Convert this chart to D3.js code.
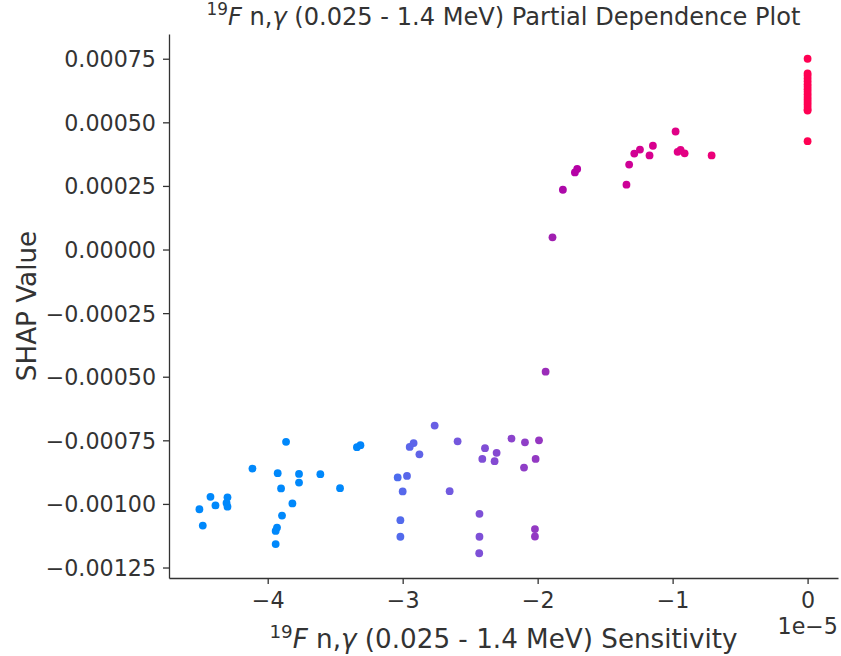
<!DOCTYPE html>
<html>
<head>
<meta charset="utf-8">
<script src="https://cdn.jsdelivr.net/npm/d3@7"></script>
<style>
  body { margin: 0; background: white; }
  text { font-family: "DejaVu Sans", sans-serif; fill: #333333; }
</style>
</head>
<body>
<div id="pdp"></div>
<script>
// sensitivity values (in units of 1e-5)
const sensitivity = [
  -4.506, -4.481, -4.424, -4.387, -4.298, -4.305, -4.298, -4.113, -3.864, -3.926,
  -3.901, -3.768, -3.768, -3.817, -3.894, -3.931, -3.941, -3.941, -3.610, -3.464,
  -3.339, -3.313, -3.037, -2.968, -3.000, -3.017, -3.017, -2.948, -2.919, -2.876,
  -2.763, -2.593, -2.652, -2.431, -2.431, -2.433, -2.390, -2.410, -2.304, -2.319,
  -2.194, -2.094, -1.990, -2.015, -2.101, -2.020, -2.020, -1.941,
  -1.890, -1.813, -1.724, -1.707, -1.342, -1.322, -1.284, -1.242, -1.171, -1.146,
  -0.978, -0.963, -0.941, -0.911, -0.711,
  0, 0, 0, 0, 0, 0, 0, 0, 0, 0, 0, 0, 0, 0, 0, 0, 0, 0
];

// matching shap values
const shapValue = [
  -0.001021, -0.001085, -0.000972, -0.001006, -0.000974, -0.000996, -0.001011, -0.000861, -0.000756, -0.000879,
  -0.000939, -0.000882, -0.000916, -0.000998, -0.001046, -0.001093, -0.001106, -0.001158, -0.000883, -0.000938,
  -0.000777, -0.000769, -0.000896, -0.000890, -0.000951, -0.001064, -0.001129, -0.000776, -0.000761, -0.000805,
  -0.000692, -0.000754, -0.000950, -0.001039, -0.001129, -0.001194, -0.000781, -0.000823, -0.000799, -0.000832,
  -0.000743, -0.000758, -0.000750, -0.000823, -0.000857, -0.001099, -0.001128, -0.000480,
  0.000048, 0.000235, 0.000303, 0.000317, 0.000255, 0.000334, 0.000377, 0.000393, 0.000370, 0.000408,
  0.000464, 0.000384, 0.000392, 0.000378, 0.000370,
  0.000750, 0.000692, 0.000683, 0.000672, 0.000661, 0.000650, 0.000640, 0.000630, 0.000620, 0.000610,
  0.000600, 0.000590, 0.000580, 0.000570, 0.000560, 0.000550, 0.000546, 0.000426
];

const xTicks = [-4, -3, -2, -1, 0];
const yTicks = [0.00075, 0.0005, 0.00025, 0, -0.00025, -0.0005, -0.00075, -0.001, -0.00125];

PartialDependence();

function PartialDependence() {
  const margin = { top: 34, right: 3, bottom: 78, left: 169 };
  const width = 841 - margin.left - margin.right;
  const height = 656 - margin.top - margin.bottom;

  const svg = d3
    .select("#pdp")
    .append("svg")
    .attr("width", 841)
    .attr("height", 656)
    .append("g")
    .attr("transform", "translate(" + margin.left + "," + margin.top + ")");

  const points = sensitivity.map((s, i) => ({ s: s, v: shapValue[i] }));

  // matplotlib style 5% padding around the data
  const xExt = d3.extent(sensitivity);
  const yExt = d3.extent(shapValue);
  const xPad = (xExt[1] - xExt[0]) * 0.05;
  const yPad = (yExt[1] - yExt[0]) * 0.05;

  const xScale = d3
    .scaleLinear()
    .domain([xExt[0] - xPad, xExt[1] + xPad])
    .range([0, width]);

  const yScale = d3
    .scaleLinear()
    .domain([yExt[0] - yPad, yExt[1] + yPad])
    .range([height, 0]);

  // shap's red_blue map: lch from blue to red, lightness dips in the middle
  const redBlue = function (t) {
    const l = t < 0.5 ? 54 - 28 * t : 40 + 28 * (t - 0.5);
    return d3.hcl(267 + 113 * t, 70 + 20 * t, l).formatHex();
  };
  // colour position along the map, not linear in sensitivity
  const colourT = d3
    .scaleLinear()
    .domain([-3.35, -3.0, -2.0, -1.8, 0])
    .range([0, 0.2, 0.42, 0.55, 1])
    .clamp(true);

  svg
    .selectAll(".dot")
    .data(points)
    .enter()
    .append("circle")
    .attr("class", "dot")
    .attr("cx", (d) => xScale(d.s))
    .attr("cy", (d) => yScale(d.v))
    .attr("r", 3.9)
    .style("fill", (d) => redBlue(colourT(d.s)));

  const minus = (t) => t.replace("-", "\u2212");

  // x-axis
  const xAxis = svg
    .append("g")
    .attr("transform", "translate(0," + height + ")")
    .call(
      d3
        .axisBottom(xScale)
        .tickValues(xTicks)
        .tickSize(6)
        .tickPadding(8)
        .tickSizeOuter(0)
        .tickFormat((d) => minus(d3.format("d")(d)))
    );

  // y-axis
  const yAxis = svg.append("g").call(
    d3
      .axisLeft(yScale)
      .tickValues(yTicks)
      .tickSize(6)
      .tickPadding(7)
      .tickSizeOuter(0)
      .tickFormat((d) => minus(d3.format(".5f")(d)))
  );

  [xAxis, yAxis].forEach((a) => {
    a.select(".domain").attr("stroke", "#333333").attr("stroke-width", 1.3);
    a.selectAll(".tick line").attr("stroke", "#333333").attr("stroke-width", 1.3);
    a.selectAll(".tick text").style("font-size", "22.2px").style("fill", "#333333");
  });
  yAxis.selectAll(".tick text").attr("dy", "0.36em");

  // offset text of x axis
  svg
    .append("text")
    .attr("x", width)
    .attr("y", height + 56)
    .attr("text-anchor", "end")
    .style("font-size", "22.2px")
    .text("1e\u22125");

  // x-axis label
  const xLabel = svg
    .append("text")
    .attr("x", width / 2)
    .attr("y", height + 67)
    .attr("text-anchor", "middle")
    .style("font-size", "26.2px");
  nuclide(xLabel);
  xLabel.append("tspan").text(" (0.025 - 1.4 MeV) Sensitivity");

  // y-axis label
  svg
    .append("text")
    .attr("transform", "rotate(-90)")
    .attr("x", -height / 2)
    .attr("y", -margin.left + 36)
    .attr("text-anchor", "middle")
    .style("font-size", "26.2px")
    .text("SHAP Value");

  // title
  const title = svg
    .append("text")
    .attr("x", width / 2)
    .attr("y", -12)
    .attr("text-anchor", "middle")
    .style("font-size", "24.1px");
  nuclide(title);
  title.append("tspan").text(" (0.025 - 1.4 MeV) Partial Dependence Plot");

  // writes the "19F n,γ" part with superscript and italics
  function nuclide(t) {
    t.append("tspan").attr("dy", "-0.4em").style("font-size", "70%").text("19");
    t.append("tspan").attr("dy", "0.4em").style("font-style", "italic").text("F");
    t.append("tspan").text(" n,");
    t.append("tspan").style("font-style", "italic").text("\u03b3");
  }
}
</script>
</body>
</html>
